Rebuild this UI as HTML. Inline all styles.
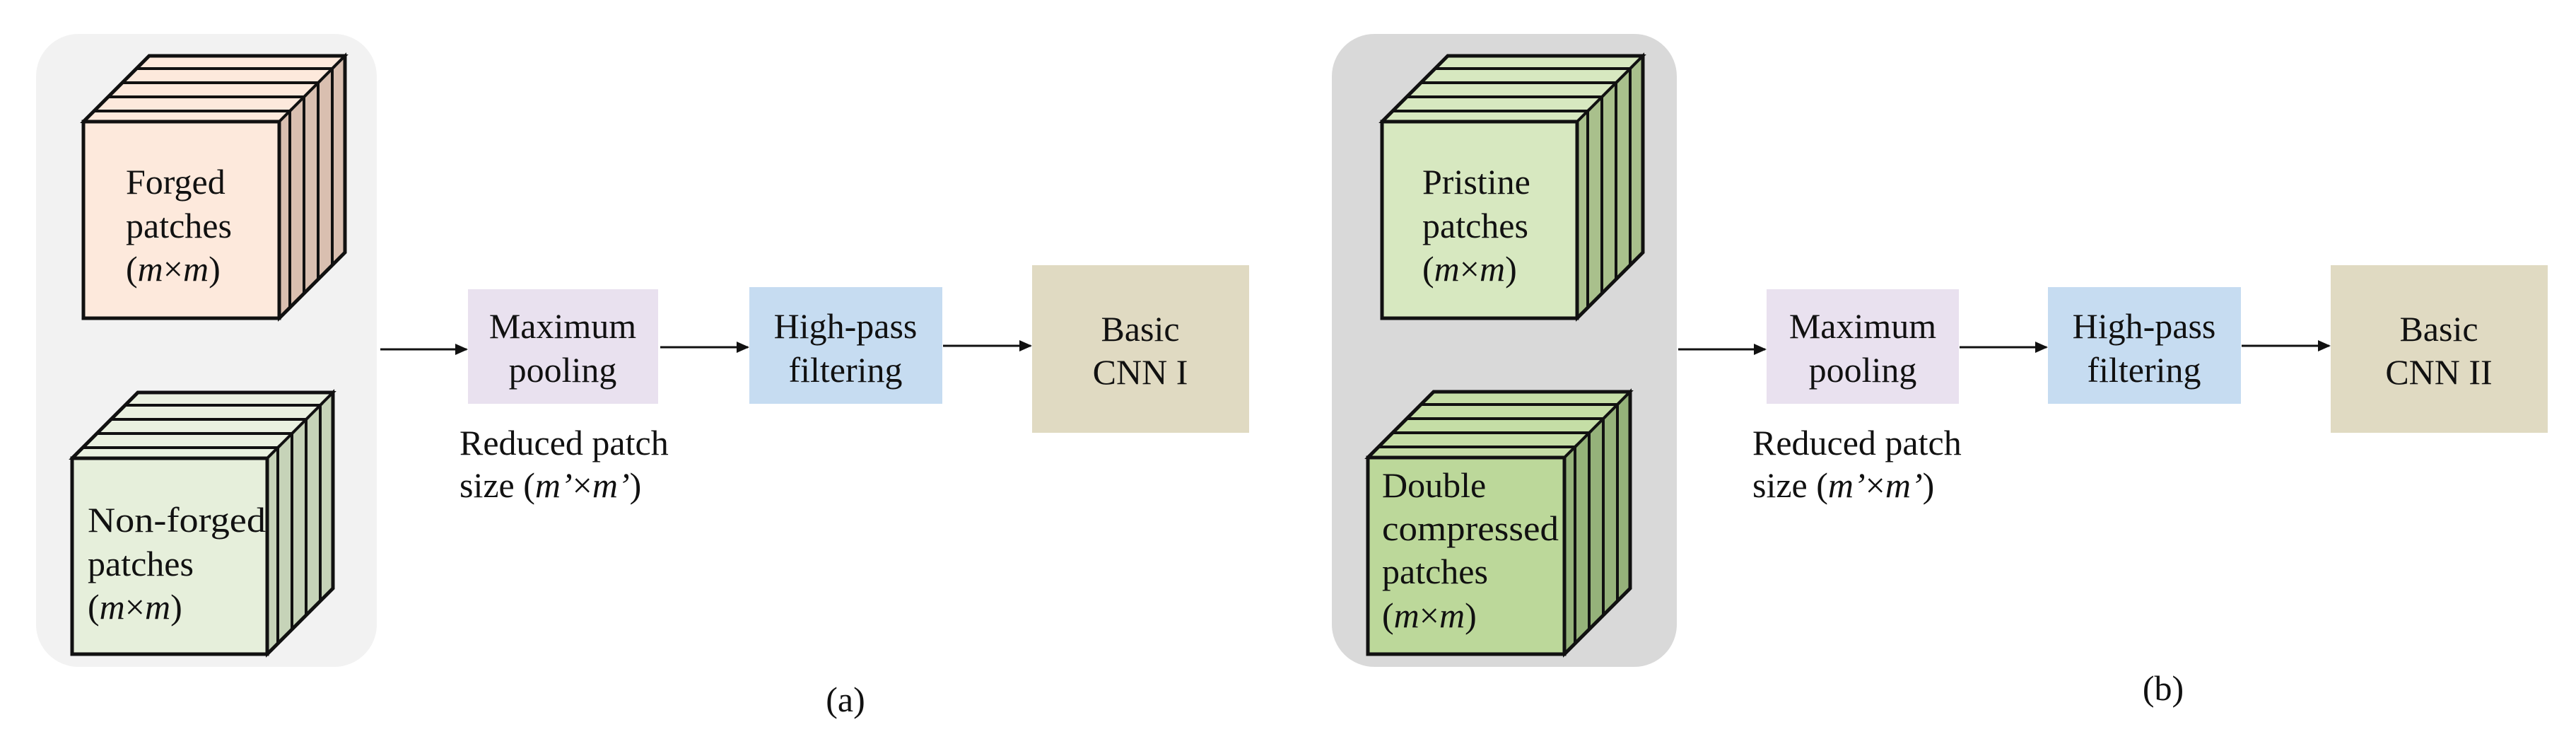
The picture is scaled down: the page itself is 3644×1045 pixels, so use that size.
<!DOCTYPE html>
<html><head><meta charset="utf-8"><style>
html,body{margin:0;padding:0;background:#fff;}
svg{display:block;}
text{font-family:"Liberation Serif",serif;font-size:50px;fill:#111;}
</style></head><body>
<svg width="3644" height="1045" viewBox="0 0 3644 1045" xmlns="http://www.w3.org/2000/svg">
<defs>
<marker id="ah" markerWidth="18" markerHeight="16" refX="16" refY="8" orient="auto" markerUnits="userSpaceOnUse" viewBox="0 0 18 16">
<path d="M0,0 L18,8 L0,16 z" fill="#111"/></marker>
</defs>
<rect x="51" y="48" width="482" height="895" rx="60" fill="#f2f2f2"/>
<rect x="1884" y="48" width="488" height="895" rx="60" fill="#d9d9d9"/>

<!-- Cube A top -->
<g stroke="#111" stroke-width="4" fill="none">
<polygon points="133,157 410,157 488,79 211,79" fill="#fde9dc"/>
<polygon points="410,157 488,79 488,357 410,435" fill="#d9bfb0"/>
<polygon points="133,157 410,157 430,137 153,137" fill="#fde9dc"/>
<polygon points="153,137 430,137 450,117 173,117" fill="#fde9dc"/>
<polygon points="173,117 450,117 470,97 193,97" fill="#fde9dc"/>
<line x1="430" y1="137" x2="430" y2="415"/><line x1="450" y1="117" x2="450" y2="395"/><line x1="470" y1="97" x2="470" y2="375"/>
<polygon points="118,172 395,172 410,157 133,157" fill="#fde9dc"/>
<polygon points="395,172 410,157 410,435 395,450" fill="#d9bfb0"/>
<rect x="118" y="172" width="277" height="278" fill="#fde9dc" stroke-width="5"/>
<polyline points="118,172 211,79 488,79 488,357 395,450" stroke-width="5"/>
</g>
<!-- Cube A bottom -->
<g stroke="#111" stroke-width="4" fill="none">
<polygon points="117,633 393,633 471,555 195,555" fill="#eaf1e0"/>
<polygon points="393,633 471,555 471,832 393,910" fill="#c6d3b8"/>
<polygon points="117,633 393,633 413,613 137,613" fill="#eaf1e0"/>
<polygon points="137,613 413,613 433,593 157,593" fill="#eaf1e0"/>
<polygon points="157,593 433,593 453,573 177,573" fill="#eaf1e0"/>
<line x1="413" y1="613" x2="413" y2="890"/><line x1="433" y1="593" x2="433" y2="870"/><line x1="453" y1="573" x2="453" y2="850"/>
<polygon points="102,648 378,648 393,633 117,633" fill="#eaf1e0"/>
<polygon points="378,648 393,633 393,910 378,925" fill="#c6d3b8"/>
<rect x="102" y="648" width="276" height="277" fill="#e6efdb" stroke-width="5"/>
<polyline points="102,648 195,555 471,555 471,832 378,925" stroke-width="5"/>
</g>
<!-- Cube B top -->
<g stroke="#111" stroke-width="4" fill="none">
<polygon points="1970,157 2246,157 2324,79 2048,79" fill="#d7e8c0"/>
<polygon points="2246,157 2324,79 2324,357 2246,435" fill="#a9c08c"/>
<polygon points="1970,157 2246,157 2266,137 1990,137" fill="#d7e8c0"/>
<polygon points="1990,137 2266,137 2286,117 2010,117" fill="#d7e8c0"/>
<polygon points="2010,117 2286,117 2306,97 2030,97" fill="#d7e8c0"/>
<line x1="2266" y1="137" x2="2266" y2="415"/><line x1="2286" y1="117" x2="2286" y2="395"/><line x1="2306" y1="97" x2="2306" y2="375"/>
<polygon points="1955,172 2231,172 2246,157 1970,157" fill="#d7e8c0"/>
<polygon points="2231,172 2246,157 2246,435 2231,450" fill="#a9c08c"/>
<rect x="1955" y="172" width="276" height="278" fill="#d7e8c0" stroke-width="5"/>
<polyline points="1955,172 2048,79 2324,79 2324,357 2231,450" stroke-width="5"/>
</g>
<!-- Cube B bottom -->
<g stroke="#111" stroke-width="4" fill="none">
<polygon points="1950,632 2228,632 2306,554 2028,554" fill="#c5dea6"/>
<polygon points="2228,632 2306,554 2306,832 2228,910" fill="#95b27a"/>
<polygon points="1950,632 2228,632 2248,612 1970,612" fill="#c5dea6"/>
<polygon points="1970,612 2248,612 2268,592 1990,592" fill="#c5dea6"/>
<polygon points="1990,592 2268,592 2288,572 2010,572" fill="#c5dea6"/>
<line x1="2248" y1="612" x2="2248" y2="890"/><line x1="2268" y1="592" x2="2268" y2="870"/><line x1="2288" y1="572" x2="2288" y2="850"/>
<polygon points="1935,647 2213,647 2228,632 1950,632" fill="#c5dea6"/>
<polygon points="2213,647 2228,632 2228,910 2213,925" fill="#95b27a"/>
<rect x="1935" y="647" width="278" height="278" fill="#bcd89a" stroke-width="5"/>
<polyline points="1935,647 2028,554 2306,554 2306,832 2213,925" stroke-width="5"/>
</g>

<text x="178" y="274">Forged</text>
<text x="178" y="336">patches</text>
<text x="178" y="397">(<tspan font-style="italic">m</tspan>×<tspan font-style="italic">m</tspan>)</text>
<text x="124" y="752" textLength="252" lengthAdjust="spacingAndGlyphs">Non-forged</text>
<text x="124" y="814">patches</text>
<text x="124" y="875">(<tspan font-style="italic">m</tspan>×<tspan font-style="italic">m</tspan>)</text>
<text x="2012" y="274">Pristine</text>
<text x="2012" y="336">patches</text>
<text x="2012" y="397">(<tspan font-style="italic">m</tspan>×<tspan font-style="italic">m</tspan>)</text>
<text x="1955" y="703">Double</text>
<text x="1955" y="764" textLength="250" lengthAdjust="spacingAndGlyphs">compressed</text>
<text x="1955" y="825">patches</text>
<text x="1955" y="887">(<tspan font-style="italic">m</tspan>×<tspan font-style="italic">m</tspan>)</text>

<rect x="662" y="409" width="269" height="162" fill="#e9e1ef"/>
<rect x="1060" y="406" width="273" height="165" fill="#c6dcf1"/>
<rect x="1460" y="375" width="307" height="237" fill="#e0dac2"/>
<rect x="2499" y="409" width="272" height="162" fill="#e9e1ef"/>
<rect x="2897" y="406" width="273" height="165" fill="#c6dcf1"/>
<rect x="3297" y="375" width="307" height="237" fill="#e0dac2"/>

<g stroke="#111" stroke-width="3" marker-end="url(#ah)">
<line x1="538" y1="494" x2="660" y2="494"/>
<line x1="934" y1="491" x2="1058" y2="491"/>
<line x1="1334" y1="489" x2="1458" y2="489"/>
<line x1="2374" y1="494" x2="2497" y2="494"/>
<line x1="2772" y1="491" x2="2895" y2="491"/>
<line x1="3171" y1="489" x2="3295" y2="489"/>
</g>

<g text-anchor="middle">
<text x="796" y="478">Maximum</text>
<text x="796" y="540">pooling</text>
<text x="1196" y="478">High-pass</text>
<text x="1196" y="540">filtering</text>
<text x="1613" y="482">Basic</text>
<text x="1613" y="543">CNN I</text>
<text x="2635" y="478">Maximum</text>
<text x="2635" y="540">pooling</text>
<text x="3033" y="478">High-pass</text>
<text x="3033" y="540">filtering</text>
<text x="3450" y="482">Basic</text>
<text x="3450" y="543">CNN II</text>
<text x="1196" y="1006">(a)</text>
<text x="3060" y="990">(b)</text>
</g>
<text x="650" y="643">Reduced patch</text>
<text x="650" y="703">size (<tspan font-style="italic">m’</tspan>×<tspan font-style="italic">m’</tspan>)</text>
<text x="2479" y="643">Reduced patch</text>
<text x="2479" y="703">size (<tspan font-style="italic">m’</tspan>×<tspan font-style="italic">m’</tspan>)</text>
</svg>
</body></html>
